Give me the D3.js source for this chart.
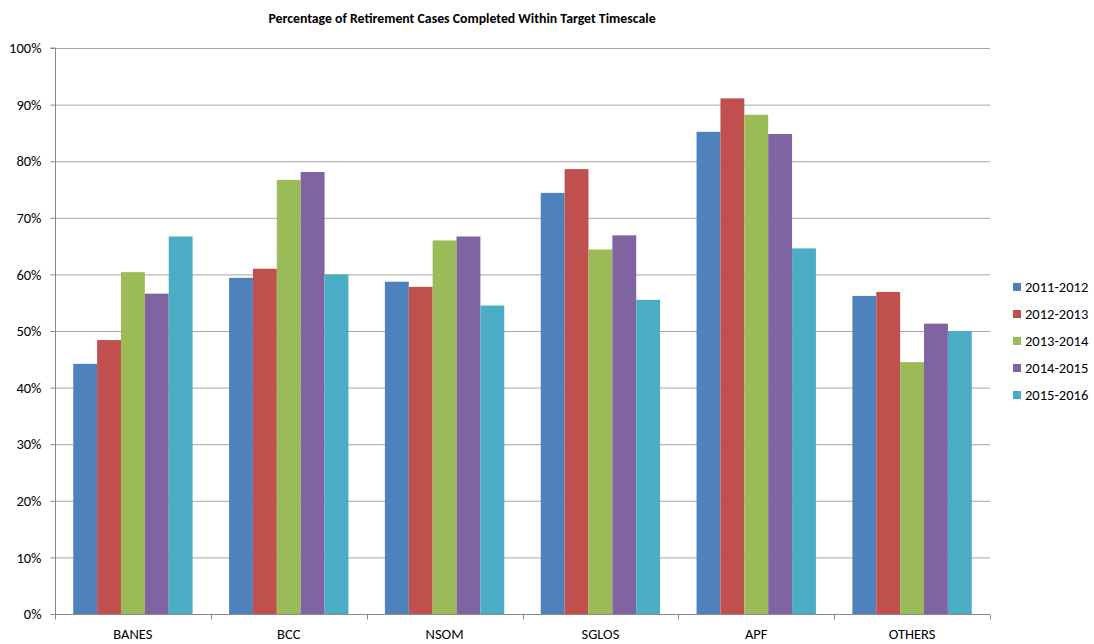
<!DOCTYPE html>
<html><head><meta charset="utf-8">
<script src="https://cdn.jsdelivr.net/npm/d3@7/dist/d3.min.js"></script>
<style>body{margin:0;background:#fff}</style>
</head><body>
<svg id="c" width="1094" height="644"></svg>
<script>
const categories = ["BANES","BCC","NSOM","SGLOS","APF","OTHERS"];
const seriesNames = ["2011-2012","2012-2013","2013-2014","2014-2015","2015-2016"];
const s2011 = [44.2, 59.4, 58.7, 74.4, 85.2, 56.2];
const s2012 = [48.4, 61.0, 57.8, 78.6, 91.1, 56.9];
const s2013 = [60.4, 76.7, 66.0, 64.4, 88.2, 44.5];
const s2014 = [56.6, 78.1, 66.7, 66.9, 84.8, 51.3];
const s2015 = [66.7, 60.0, 54.5, 55.5, 64.6, 50.0];
const yTicks = [0,10,20,30,40,50,60,70,80,90,100];
const colors = ["#4f81bd","#c0504d","#9bbb59","#8064a2","#4bacc6"];
const series = [s2011,s2012,s2013,s2014,s2015];

const svg = d3.select("#c");
const font = "Carlito, Lato, 'Liberation Sans', Arial, sans-serif";
const fs = 14.5;
const L=55, R=990, T=48, B=614;
const x = d3.scaleBand().domain(categories).range([L,R]).paddingInner(0.234).paddingOuter(0.117);
const x1 = d3.scaleBand().domain(seriesNames).range([0,x.bandwidth()]);
const y = d3.scaleLinear().domain([0,100]).range([B,T]);

// gridlines
svg.append("g").selectAll("line").data(yTicks.filter(d=>d>0)).join("line")
  .attr("x1",L).attr("x2",R).attr("y1",d=>y(d)+0.5).attr("y2",d=>y(d)+0.5)
  .attr("stroke","#a6a6a6").attr("stroke-width",1);

// bars
const g = svg.append("g");
series.forEach((vals,si)=>{
  g.selectAll(null).data(vals).join("rect")
    .attr("x",(d,i)=>x(categories[i])+x1(seriesNames[si]))
    .attr("width",x1.bandwidth())
    .attr("y",d=>y(d)).attr("height",d=>B-y(d))
    .attr("fill",colors[si]);
});

// y axis
const ya = svg.append("g").attr("transform",`translate(${L+0.5},0)`)
  .call(d3.axisLeft(y).tickValues(yTicks).tickFormat(d=>d+"%").tickSize(5).tickPadding(9));
ya.select(".domain").attr("stroke","#888").attr("d",`M-5,${T}H0V${B}`);
ya.selectAll(".tick line").attr("stroke","#888");
ya.selectAll("text").attr("font-family",font).attr("font-size",fs).attr("fill","#000");

// x axis
const xa = svg.append("g").attr("transform",`translate(0,${B+0.5})`);
xa.append("line").attr("x1",L).attr("x2",R).attr("stroke","#888");
const bounds = d3.range(categories.length+1).map(i=>L+i*(R-L)/categories.length);
xa.selectAll(".tk").data(bounds).join("line").attr("class","tk")
  .attr("x1",d=>Math.round(d)+0.5).attr("x2",d=>Math.round(d)+0.5).attr("y1",0).attr("y2",5).attr("stroke","#888");
xa.selectAll("text").data(categories).join("text")
  .attr("x",d=>x(d)+x.bandwidth()/2).attr("y",24)
  .attr("text-anchor","middle").attr("font-family",font).attr("font-size",fs).text(d=>d);

// title
svg.append("text").attr("x",462).attr("y",23).attr("text-anchor","middle")
  .attr("font-family",font).attr("font-weight","bold").attr("font-size",13.8)
  .text("Percentage of Retirement Cases Completed Within Target Timescale");

// legend
const lg = svg.append("g");
seriesNames.forEach((n,i)=>{
  const yy = 287 + i*27;
  lg.append("rect").attr("x",1013).attr("y",yy-4).attr("width",8).attr("height",8).attr("fill",colors[i]);
  lg.append("text").attr("x",1025).attr("y",yy+5).attr("font-family",font).attr("font-size",fs).text(n);
});
</script>
</body></html>
